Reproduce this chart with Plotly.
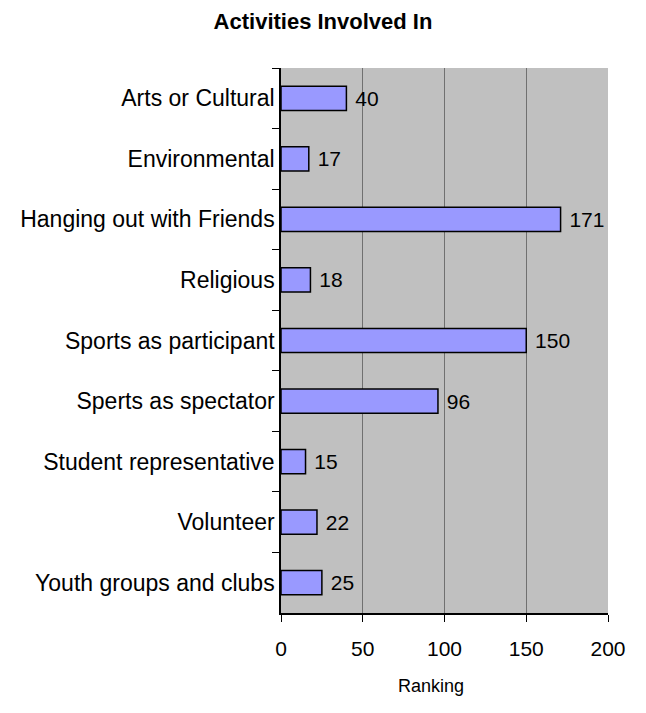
import plotly.graph_objects as go

categories = ["Arts or Cultural", "Environmental", "Hanging out with Friends", "Religious",
              "Sports as participant", "Sperts as spectator", "Student representative",
              "Volunteer", "Youth groups and clubs"]
values = [40, 17, 171, 18, 150, 96, 15, 22, 25]
x_ticks = [0, 50, 100, 150, 200]

FONT = "Liberation Sans, Arial, sans-serif"

fig = go.Figure(go.Bar(
    y=categories, x=values, orientation="h",
    marker=dict(color="#9999FF", line=dict(color="black", width=1.5)),
    text=[" " + str(v) for v in values], textposition="outside", cliponaxis=False,
    textfont=dict(family=FONT, size=21, color="black"),
    width=0.4,
))

fig.update_layout(
    width=646, height=713,
    margin=dict(l=281, r=38, t=68, b=100),
    paper_bgcolor="white", plot_bgcolor="#C0C0C0",
    showlegend=False,
    title=dict(text="<b>Activities Involved In</b>", x=0.5, xanchor="center",
               y=1 - 21/713, yanchor="middle",
               font=dict(family=FONT, size=22, color="black")),
    font=dict(family=FONT, size=21, color="black"),
    annotations=[dict(text="Ranking", xref="paper", yref="paper",
                      x=(431 - 281) / 327, y=-(686 - 613) / 545,
                      xanchor="center", yanchor="middle", showarrow=False,
                      font=dict(family=FONT, size=18, color="black"))],
)
fig.update_xaxes(
    range=[0, 200], tickvals=x_ticks, ticktext=[str(t) for t in x_ticks],
    showgrid=True, gridcolor="#707070", gridwidth=1,
    showline=True, linecolor="black", linewidth=1.5,
    ticks="outside", ticklen=7, tickcolor="black",
    tickfont=dict(family=FONT, size=21), ticklabelstandoff=9,
    zeroline=False,
)
fig.update_yaxes(
    autorange="reversed", tickson="boundaries",
    showline=True, linecolor="black", linewidth=1.5,
    ticks="outside", ticklen=7, tickcolor="black",
    tickfont=dict(family=FONT, size=23),
    showgrid=False,
)

fig.write_html("out.html")
